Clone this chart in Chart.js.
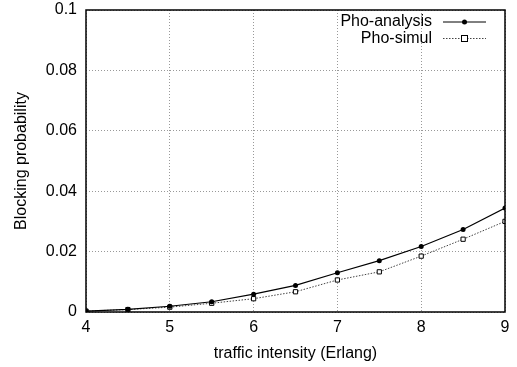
<!DOCTYPE html>
<html><head><meta charset="utf-8">
<script src="https://cdn.jsdelivr.net/npm/chart.js@4"></script>
<style>html,body{margin:0;padding:0;background:#fff}#wrap{width:517px;height:367px}</style>
</head><body><div id="wrap"><canvas id="c" width="517" height="367"></canvas></div>
<script>
const xValues = [4, 4.5, 5, 5.5, 6, 6.5, 7, 7.5, 8, 8.5, 9];
const analysis = [0.0003, 0.0009, 0.0019, 0.0034, 0.0059, 0.0088, 0.0130, 0.0170, 0.0217, 0.0273, 0.0344];
const simul = [0.0003, 0.0008, 0.0016, 0.0029, 0.0044, 0.0067, 0.0106, 0.0133, 0.0185, 0.0241, 0.0300];
const seriesNames = ['Pho-analysis', 'Pho-simul'];
const xTicks = [4, 5, 6, 7, 8, 9];
const yTicks = [0, 0.02, 0.04, 0.06, 0.08, 0.1];
const FONT = 'Liberation Sans, Arial, sans-serif';

const frame = {
  id: 'frame',
  afterDatasetsDraw(chart) {
    const {ctx, chartArea: a} = chart;
    ctx.save();
    ctx.strokeStyle = '#000'; ctx.lineWidth = 1.5;
    ctx.strokeRect(a.left, a.top, a.right - a.left, a.bottom - a.top);
    // legend
    ctx.font = '16px ' + FONT;
    ctx.textAlign = 'right'; ctx.textBaseline = 'middle'; ctx.fillStyle = '#000';
    const rows = [
      {name: seriesNames[0], y: 22, dash: [], color: '#000', pt: 'circle'},
      {name: seriesNames[1], y: 38.5, dash: [1.5, 1.5], color: '#444', pt: 'rect'}
    ];
    rows.forEach(r => {
      ctx.fillStyle = '#000';
      ctx.fillText(r.name, 432, r.y);
      ctx.beginPath(); ctx.setLineDash(r.dash); ctx.strokeStyle = r.color; ctx.lineWidth = 1;
      ctx.moveTo(443, r.y); ctx.lineTo(486, r.y); ctx.stroke(); ctx.setLineDash([]);
      if (r.pt === 'circle') { ctx.beginPath(); ctx.fillStyle = '#000'; ctx.arc(464.5, r.y, 2.5, 0, Math.PI*2); ctx.fill(); }
      else { ctx.fillStyle = '#fff'; ctx.fillRect(461.5, r.y-3, 6, 6); ctx.strokeStyle = '#000'; ctx.lineWidth = 1; ctx.strokeRect(461.5, r.y-3, 6, 6); }
    });
    ctx.restore();
  }
};

new Chart(document.getElementById('c'), {
  type: 'line',
  data: {
    datasets: [
      {label: seriesNames[0], data: xValues.map((x,i)=>({x, y: analysis[i]})), borderColor: '#000', backgroundColor: '#000', borderWidth: 1.2, pointStyle: 'circle', pointRadius: 2.5, pointBorderWidth: 0, tension: 0},
      {label: seriesNames[1], data: xValues.map((x,i)=>({x, y: simul[i]})), borderColor: '#444', backgroundColor: '#fff', borderWidth: 1, borderDash: [1.5, 1.5], pointStyle: 'rect', pointRadius: 3, pointBorderColor: '#000', pointBorderWidth: 1, tension: 0}
    ]
  },
  options: {
    responsive: false, animation: false, devicePixelRatio: 1,
    layout: {padding: {left: 0, right: 12, top: 10, bottom: 0}},
    plugins: {legend: {display: false}, tooltip: {enabled: false}},
    scales: {
      x: {
        type: 'linear', min: 4, max: 9,
        afterBuildTicks: s => { s.ticks = xTicks.map(v => ({value: v})); },
        afterFit: s => { s.height = 55; s.paddingLeft = 0; s.paddingRight = 0; },
        ticks: {color: '#000', font: {family: FONT, size: 16}, padding: 6, maxRotation: 0, callback: v => String(v)},
        grid: {color: '#999', lineWidth: 1, drawTicks: false},
        border: {display: false, dash: [1, 2]},
        title: {display: true, text: 'traffic intensity (Erlang)', color: '#000', font: {family: FONT, size: 16}, padding: {top: 6}}
      },
      y: {
        min: 0, max: 0.1,
        afterBuildTicks: s => { s.ticks = yTicks.map(v => ({value: v})); },
        afterFit: s => { s.width = 86; s.paddingTop = 0; s.paddingBottom = 0; },
        ticks: {color: '#000', font: {family: FONT, size: 16}, padding: 9, callback: v => String(v)},
        grid: {color: '#999', lineWidth: 1, drawTicks: false},
        border: {display: false, dash: [1, 2]},
        title: {display: true, text: 'Blocking probability', color: '#000', font: {family: FONT, size: 16}, padding: {top: 12, bottom: 4}}
      }
    }
  },
  plugins: [frame]
});
</script>
</body></html>
